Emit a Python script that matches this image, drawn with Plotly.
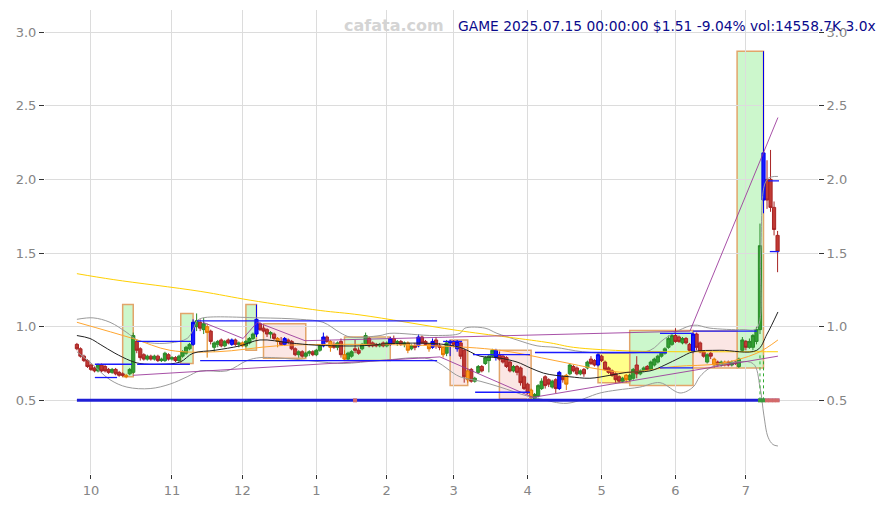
import plotly.graph_objects as go

# ---------------- data ----------------
month_tick_idx = [4, 27, 47, 68, 88, 107, 128, 149, 170, 190]
month_labels = ["10", "11", "12", "1", "2", "3", "4", "5", "6", "7"]
y_ticks = [0.5, 1.0, 1.5, 2.0, 2.5, 3.0]

opens = [
    .88, .85, .80, .77, .74, .72, .70, .74, .73, .71,
    .69, .71, .69, .68, .67, .68, .69, .90, .85, .81,
    .78, .80, .78, .80, .77, .77, .81, .78, .79, .77,
    .80, .82, .85, .88, 1.00, 1.03, .98, 1.00, .97, .86,
    .88, .91, .87, .91, .88, .91, .88, .89, .87, .89,
    .92, .95, 1.02, .99, .98, .95, .95, .92, .90, .88,
    .91, .90, .85, .81, .83, .80, .82, .83, .81, .84,
    .87, .93, .90, .88, .86, .90, .81, .78, .80, .85,
    .84, .85, .88, .92, .89, .88, .87, .89, .87, .88,
    .92, .89, .90, .88, .89, .85, .87, .87, .93, .90,
    .88, .86, .91, .87, .86, .82, .89, .90, .85, .89,
    .84, .70, .71, .63, .69, .73, .75, .77, .80, .84,
    .81, .80, .79, .76, .70, .73, .72, .66, .61, .57,
    .51, .53, .58, .66, .64, .59, .64, .58, .66, .67,
    .68, .73, .72, .68, .71, .72, .78, .77, .74, .80,
    .76, .72, .70, .68, .66, .63, .67, .64, .65, .74,
    .68, .70, .73, .71, .74, .76, .80, .82, .86, .88,
    .94, .93, .89, .92, .88, .83, .95, .89, .83, .76,
    .82, .78, .76, .74, .76, .76, .74, .76, .73, .84,
    .90, .86, .86, .90, .98, 2.18, 2.00, 2.00, 1.81, 1.62,
]
highs = [
    .89, .86, .81, .78, .75, .73, .75, .75, .74, .72,
    .72, .72, .70, .69, .68, .72, .96, .91, .86, .82,
    .81, .81, .81, .81, .79, .83, .82, .80, .80, .81,
    .84, .87, .89, 1.05, 1.09, 1.05, 1.06, 1.02, .98, .90,
    .91, .92, .91, .92, .92, .92, .90, .90, .91, .93,
    .96, 1.15, 1.03, 1.01, .99, .97, .96, .93, .93, .93,
    .92, .91, .86, .84, .84, .83, .84, .84, .85, .88,
    .96, .94, .91, .90, .90, .92, .84, .83, .84, .91,
    .86, .89, .96, .93, .90, .89, .89, .90, .90, .93,
    .94, .91, .91, .90, .90, .88, .89, .95, .94, .91,
    .89, .92, .93, .89, .87, .91, .91, .91, .91, .90,
    .85, .72, .72, .66, .74, .74, .80, .81, .85, .85,
    .83, .81, .80, .77, .74, .74, .73, .67, .62, .58,
    .55, .61, .65, .67, .65, .64, .65, .70, .67, .68,
    .75, .74, .73, .71, .72, .77, .80, .78, .82, .81,
    .77, .73, .71, .69, .67, .66, .68, .68, .72, .80,
    .71, .73, .74, .77, .79, .81, .83, .86, .94, .95,
    .99, .94, .93, .93, .89, .96, .96, .90, .84, .82,
    .83, .79, .77, .77, .77, .77, .77, .77, .79, .93,
    .91, .92, .95, 1.00, 1.70, 2.87, 2.13, 2.20, 1.85, 1.65,
]
lows = [
    .84, .79, .76, .72, .70, .69, .69, .69, .69, .68,
    .68, .67, .66, .66, .65, .67, .68, .82, .77, .77,
    .77, .77, .77, .76, .76, .76, .77, .77, .76, .76,
    .79, .81, .84, .87, .97, .97, .95, .79, .88, .83,
    .86, .86, .86, .88, .87, .87, .86, .86, .86, .88,
    .91, .93, .97, .96, .93, .92, .91, .86, .87, .87,
    .88, .84, .80, .79, .79, .79, .80, .80, .80, .83,
    .86, .89, .83, .85, .84, .79, .77, .77, .79, .82,
    .81, .84, .87, .86, .86, .86, .86, .86, .86, .87,
    .88, .87, .87, .86, .82, .84, .84, .86, .88, .87,
    .83, .85, .85, .84, .79, .80, .80, .86, .83, .78,
    .62, .62, .62, .62, .68, .69, .74, .69, .79, .77,
    .77, .75, .72, .69, .69, .67, .60, .57, .54, .51,
    .50, .52, .57, .58, .59, .58, .55, .57, .62, .57,
    .67, .69, .67, .67, .66, .71, .74, .73, .73, .76,
    .70, .68, .66, .62, .62, .62, .62, .63, .64, .65,
    .67, .69, .70, .70, .73, .75, .79, .81, .85, .87,
    .89, .89, .88, .88, .83, .82, .84, .82, .79, .75,
    .78, .72, .73, .73, .73, .73, .73, .74, .72, .83,
    .84, .85, .84, .88, .95, 1.77, 1.80, 1.78, 1.62, 1.37,
]
closes = [
    .85, .80, .77, .73, .71, .70, .74, .70, .70, .69,
    .71, .68, .67, .67, .66, .71, .94, .84, .79, .78,
    .80, .78, .80, .77, .78, .82, .78, .79, .77, .80,
    .83, .86, .88, 1.03, 1.04, .99, 1.02, .96, .90, .89,
    .90, .87, .90, .89, .91, .88, .89, .87, .90, .92,
    .95, 1.05, .98, .97, .95, .96, .92, .90, .88, .92,
    .90, .85, .81, .83, .80, .82, .83, .81, .84, .87,
    .93, .90, .86, .86, .89, .81, .78, .82, .83, .84,
    .82, .88, .94, .87, .87, .87, .88, .87, .89, .92,
    .89, .90, .88, .89, .84, .87, .86, .93, .89, .88,
    .85, .90, .87, .86, .81, .89, .90, .88, .90, .80,
    .66, .64, .63, .65, .73, .70, .79, .80, .84, .79,
    .78, .76, .73, .70, .73, .69, .62, .58, .55, .52,
    .54, .60, .63, .60, .61, .63, .58, .69, .64, .61,
    .74, .70, .68, .70, .68, .76, .75, .74, .81, .77,
    .71, .69, .67, .64, .63, .65, .64, .67, .71, .68,
    .70, .72, .71, .76, .78, .80, .82, .85, .92, .94,
    .90, .90, .92, .89, .84, .95, .86, .83, .80, .81,
    .80, .74, .74, .76, .74, .74, .76, .75, .78, .91,
    .86, .90, .94, .98, 1.55, 1.86, 1.86, 1.81, 1.66, 1.51,
]
blue_idx = [33, 44, 51, 59, 70, 89, 97, 101, 106, 108, 119, 137, 148, 175, 195]
orange_idx = [14, 37, 47, 57, 72, 76, 94, 100, 104, 111, 129, 139, 156, 181, 184]

# moving-average style overlays (trading-day index, price)
yellow_x = [0, 10.3, 35, 49.2, 69.1, 80.4, 108, 134.4, 141, 157.1, 171.3, 188.3, 199.1]
yellow_y = [1.36, 1.32, 1.24, 1.18, 1.11, 1.08, .975, .89, .86, .835, .83, .83, .83]

orange_x = [0, 15.9, 26.4, 39.8, 56.8, 71.9, 101.7, 120.1, 135.8, 148.6, 156.2, 169.9, 182.6, 193.1, 199.1]
orange_y = [1.03, .92, .84, .83, .87, .88, .87, .84, .77, .71, .69, .73, .75, .82, .91]

black_x = [0, 3.7, 6.6, 10.8, 15.1, 17.9, 23.6, 29.3, 33, 39.2, 46.3, 52, 60.5, 67.6, 80.4, 88.9,
           101.7, 108.8, 114.5, 119.3, 125, 128.8, 132.5, 135.8, 140, 145.7, 151.4, 156.2, 162.8,
           167, 171.3, 175, 182.6, 193.1, 196, 199.1]
black_y = [.94, .92, .88, .82, .77, .75, .745, .76, .82, .84, .87, .91, .89, .875, .87, .885,
           .885, .86, .80, .79, .76, .72, .685, .67, .66, .65, .67, .69, .70,
           .74, .79, .83, .84, .84, .95, 1.10]

bb_up_x = [0, 4.6, 9.4, 14.2, 17.1, 20.8, 26.4, 31.3, 33, 34.1, 35.8, 52, 63.4, 69.9, 74.7, 77.6,
           86.1, 88.9, 101.7, 108.8, 110.2, 115.9, 119.3, 125, 130.7, 135.8, 143.6, 153.4, 162.8,
           167, 175, 179.8, 189.2, 193.1, 194.2, 196, 199.1]
bb_up_y = [1.05, 1.06, 1.03, .96, .91, .89, .89, .92, .98, 1.04, 1.06, 1.06, 1.05, 1.03, .96, .93,
           .94, .955, .94, .955, .99, .99, .955, .91, .87, .86, .83, .82, .84,
           .92, 1.01, .99, .98, .99, 1.5, 2.0, 2.02]

bb_lo_x = [0, 3.7, 9.4, 14.2, 20.8, 26.4, 31.3, 35, 42.6, 48.3, 52, 61.4, 69.9, 75.6, 86.1, 100.3,
           108.8, 114.5, 120.2, 127.8, 131.6, 139.2, 148.6, 153.4, 159.9, 165.6, 171.3, 175, 176.9,
           179.8, 184.6, 192, 194, 195.1, 196.3, 197.7, 199.1]
bb_lo_y = [.83, .76, .64, .59, .58, .61, .66, .70, .70, .77, .79, .78, .76, .75, .77, .78,
           .66, .63, .59, .53, .51, .48, .55, .57, .59, .62, .55, .59, .66,
           .72, .75, .75, .59, .40, .25, .20, .19]

# trend lines (zig-zag)
trend_top_x = [35.8, 47.2, 51.2, 64.8, 174.1, 199.1]
trend_top_y = [1.03, .92, 1.03, .905, .97, 2.42]
trend_low_x = [15.9, 103.1, 129.5, 199.1]
trend_low_y = [.67, .795, .52, .80]

# horizontal support / resistance levels: start idx, end idx, price
level_x0 = [5.1, 5.1, 17.1, 17.1, 34.1, 35.0, 104.0, 112.5, 113.1, 130.1, 165.6, 175.0, 165.6, 196.3, 196.8]
level_x1 = [15.6, 11.4, 33.0, 32.1, 102.3, 102.3, 109.4, 128.7, 128.7, 167.6, 175.0, 193.1, 175.0, 199.4, 199.4]
level_y = [.745, .655, .90, .745, 1.04, .77, .90, .81, .555, .825, .955, .97, .72, 1.99, 1.51]
base_level = 0.5
base_x = [0, 199.5]

# range boxes: start idx, end idx, top, bottom, kind
box_x0 = [13.0, 29.5, 48.0, 76.0, 157.0, 187.5, 53.0, 106.0, 120.0, 175.0, 148.0]
box_x1 = [16.0, 33.0, 51.0, 89.0, 175.0, 195.0, 65.0, 111.0, 129.0, 187.5, 157.0]
box_top = [1.15, 1.09, 1.15, .93, .975, 2.87, 1.02, .91, .84, .97, .82]
box_bot = [.66, .75, .84, .77, .60, .72, .785, .60, .51, .72, .62]
box_kind = ["up", "up", "up", "up", "up", "up", "down", "down", "down", "down", "flat"]

# signal markers on the base line
sig_x = [79, 194, 195, 196, 197, 198, 199]
sig_kind = ["down", "up", "up", "down", "down", "down", "down"]
spike_x = [194, 195]
spike_top = [.82, .82]

title_text = "GAME 2025.07.15 00:00:00 $1.51 -9.04% vol:14558.7K 3.0x"
watermark = "cafata.com"

# ---------------- figure ----------------
fig = go.Figure()

box_fill = {"up": "#ccf7cc", "down": "#fbe6e4", "flat": "#ffff8a"}
for x0, x1, t, b, k in zip(box_x0, box_x1, box_top, box_bot, box_kind):
    fig.add_shape(type="rect", xref="x", yref="y", x0=x0, x1=x1, y0=b, y1=t,
                  fillcolor=box_fill[k], line=dict(color="#e2a56a", width=1.5), layer="below")

def line(xs, ys, color, width=1, shape="linear", dash=None, opacity=1.0):
    fig.add_trace(go.Scatter(x=xs, y=ys, mode="lines", opacity=opacity,
                             line=dict(color=color, width=width, shape=shape, dash=dash),
                             showlegend=False, hoverinfo="skip"))

line(bb_up_x, bb_up_y, "#9a9a9a", 1, "spline")
line(bb_lo_x, bb_lo_y, "#9a9a9a", 1, "spline")
line(yellow_x, yellow_y, "#ffd000", 1, "spline")
line(orange_x, orange_y, "#ffa630", 1, "spline")
line(black_x, black_y, "#222222", 1, "spline")
line(trend_top_x, trend_top_y, "#993399", 1, opacity=0.85)
line(trend_low_x, trend_low_y, "#993399", 1, opacity=0.85)

for sx, st in zip(spike_x, spike_top):
    line([sx, sx], [base_level, st], "#33aa33", 1, dash="dot")

# blue levels
for x0, x1, yv in zip(level_x0, level_x1, level_y):
    line([x0, x1], [yv, yv], "#1a1aff", 1.3)
line(base_x, [base_level, base_level], "#1f1fd6", 3)

# candles
def candle(idxs, inc_line, inc_fill, dec_line, dec_fill):
    fig.add_trace(go.Candlestick(
        x=idxs,
        open=[opens[i] for i in idxs], high=[highs[i] for i in idxs],
        low=[lows[i] for i in idxs], close=[closes[i] for i in idxs],
        increasing=dict(line=dict(color=inc_line, width=1), fillcolor=inc_fill),
        decreasing=dict(line=dict(color=dec_line, width=1), fillcolor=dec_fill),
        whiskerwidth=0, showlegend=False, hoverinfo="skip"))

all_idx = list(range(len(closes)))
special = set(blue_idx) | set(orange_idx)
main_idx = [i for i in all_idx if i not in special]
candle(main_idx, "#2a8a2a", "#33a033", "#a82424", "#c03a34")
candle(blue_idx, "#0000ee", "#1a1aff", "#0000ee", "#1a1aff")
candle(orange_idx, "#e07800", "#ff9a1a", "#e07800", "#ff9a1a")

sig_color = {"up": "#3c9a3c", "down": "#d46a6a"}
fig.add_trace(go.Scatter(x=sig_x, y=[base_level] * len(sig_x), mode="markers",
                         marker=dict(symbol="square", size=4, color=[sig_color[k] for k in sig_kind]),
                         showlegend=False, hoverinfo="skip"))

# invisible trace to activate right axis
fig.add_trace(go.Scatter(x=[0], y=[base_level], yaxis="y2", mode="markers",
                         marker=dict(opacity=0), showlegend=False, hoverinfo="skip"))

L, R, T, B = 45, 68, 10, 31
W, H = 886, 505
pw = W - L - R
ph = H - T - B
px_per_idx = 3.521
x_left = (L - 76.9) / px_per_idx
x_right = x_left + pw / px_per_idx

axis_font = dict(family="DejaVu Sans", size=13, color="#858585")
fig.update_layout(
    width=W, height=H, margin=dict(l=L, r=R, t=T, b=B),
    paper_bgcolor="white", plot_bgcolor="white", showlegend=False,
    boxgap=0.05, boxgroupgap=0.05,
    font=dict(family="DejaVu Sans", size=13, color="#858585"),
    xaxis=dict(range=[x_left, x_right], tickmode="array", tickvals=month_tick_idx,
               ticktext=month_labels, showgrid=True, gridcolor="#dcdcdc", gridwidth=1,
               ticks="outside", ticklen=4, tickcolor="#333333", zeroline=False,
               showline=False, rangeslider=dict(visible=False), tickfont=axis_font,
               automargin=False),
    yaxis=dict(range=[0, 3.15], tickmode="array", tickvals=y_ticks, tickformat=".1f",
               showgrid=True, gridcolor="#dcdcdc", gridwidth=1, ticks="outside", ticklen=5,
               tickcolor="#333333", zeroline=False, showline=False, tickfont=axis_font,
               automargin=False),
    yaxis2=dict(range=[0, 3.15], overlaying="y", side="right", tickmode="array",
                tickvals=y_ticks, tickformat=".1f", showgrid=False, ticks="outside",
                ticklen=5, tickcolor="#333333", zeroline=False, showline=False,
                tickfont=axis_font, automargin=False),
)

ty = 1 - (26 - T) / ph
fig.add_annotation(text=title_text, xref="paper", yref="paper", x=(878 - L) / pw, y=ty,
                   xanchor="right", yanchor="middle", showarrow=False,
                   font=dict(family="DejaVu Sans", size=13.8, color="#0a0a8c"))
fig.add_annotation(text="<b>" + watermark + "</b>", xref="paper", yref="paper",
                   x=(393.5 - L) / pw, y=ty, xanchor="center", yanchor="middle",
                   showarrow=False, font=dict(family="DejaVu Sans", size=16, color="#d4d4d4"))

fig.write_html("out.html", config={"displayModeBar": False},
               post_script="document.body.style.margin='0';document.body.style.overflow='hidden';")
